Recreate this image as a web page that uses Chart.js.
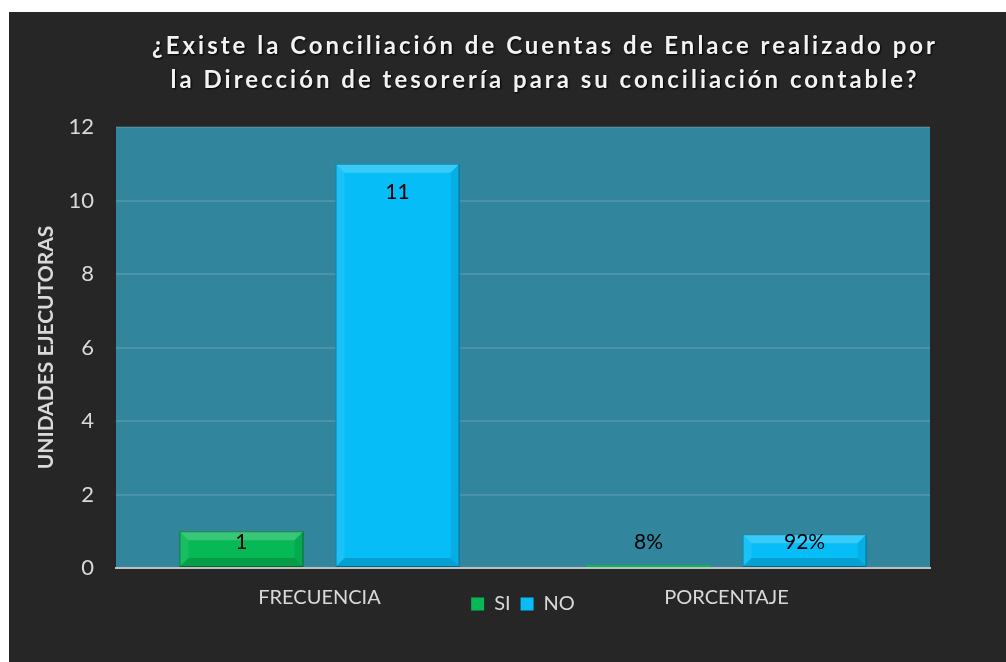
<!DOCTYPE html>
<html>
<head>
<meta charset="utf-8">
<script src="https://cdn.jsdelivr.net/npm/chart.js@4.4.0/dist/chart.umd.min.js"></script>
<style>
  body { margin: 0; background: #fff; width: 1006px; height: 662px; overflow: hidden; position: relative; }
  #frame { position: absolute; left: 9px; top: 12px; width: 997px; height: 650px; background: #262626; }
  #title {
    position: absolute; left: 80px; width: 930px; top: 28px;
    text-align: center; color: #f2f2f2; font: bold 24px Lato;
    letter-spacing: 3px; line-height: 34px; text-shadow: 1px 1px 2px #000;
  }
  #chart { position: absolute; left: 0; top: 0; }
</style>
</head>
<body>
<div id="frame"><canvas id="chart" width="997" height="650"></canvas></div>
<div id="title">¿Existe la Conciliación de Cuentas de Enlace realizado por<br>la Dirección de tesorería para su conciliación contable?</div>
<script>
const categories = ['FRECUENCIA', 'PORCENTAJE']
const siValues = [1, 0.08]
const noValues = [11, 0.92]
const siLabels = ['1', '8%']
const noLabels = ['11', '92%']
const yTicks = [0, 2, 4, 6, 8, 10, 12]

const plotBackground = {
  id: 'plotBackground',
  beforeDraw (chart) {
    const { ctx, chartArea: a } = chart
    ctx.save()
    ctx.fillStyle = '#31859c'
    ctx.fillRect(a.left, a.top, a.right - a.left, a.bottom - a.top)
    ctx.restore()
  }
}

// excel style bevel on each bar
const bevel = {
  id: 'bevel',
  afterDatasetsDraw (chart) {
    const ctx = chart.ctx
    const poly = (pts, color) => {
      ctx.beginPath()
      pts.forEach(([px, py], i) => (i ? ctx.lineTo(px, py) : ctx.moveTo(px, py)))
      ctx.closePath()
      ctx.fillStyle = color
      ctx.fill()
    }
    chart.data.datasets.forEach((ds, i) => {
      chart.getDatasetMeta(i).data.forEach(bar => {
        const { x, y, base, width } = bar.getProps(['x', 'y', 'base', 'width'], true)
        const l = x - width / 2
        const r = x + width / 2
        const h = base - y
        if (h < 6) return
        const d = Math.min(9, h / 3)
        ctx.save()
        poly([[l, y], [r, y], [r - d, y + d], [l + d, y + d]], 'rgba(255,255,255,0.20)')
        poly([[l, y], [l + d, y + d], [l + d, base - d], [l, base]], 'rgba(255,255,255,0.08)')
        poly([[r, y], [r, base], [r - d, base - d], [r - d, y + d]], 'rgba(0,0,0,0.08)')
        poly([[l, base], [l + d, base - d], [r - d, base - d], [r, base]], 'rgba(0,0,0,0.15)')
        ctx.strokeStyle = 'rgba(0,0,0,0.35)'
        ctx.lineWidth = 1
        ctx.strokeRect(l + 0.5, y + 0.5, width - 1, h - 1)
        ctx.restore()
      })
    })
  }
}

const valueLabels = {
  id: 'valueLabels',
  afterDatasetsDraw (chart) {
    const ctx = chart.ctx
    const texts = [siLabels, noLabels]
    ctx.save()
    ctx.font = '21px Lato'
    ctx.fillStyle = '#000'
    ctx.textAlign = 'center'
    ctx.textBaseline = 'middle'
    chart.data.datasets.forEach((ds, i) => {
      chart.getDatasetMeta(i).data.forEach((bar, j) => {
        const ly = Math.min(bar.y + 28, bar.base - 25)
        ctx.fillText(texts[i][j], bar.x, ly)
      })
    })
    ctx.restore()
  }
}

// legend sits on the same row as the category labels
const legendRow = {
  id: 'legendRow',
  afterLayout (chart) {
    const lg = chart.legend
    const a = chart.chartArea
    const h = lg.bottom - lg.top
    lg.top = a.bottom + 16
    lg.bottom = lg.top + h
    lg.left = a.left
    lg.right = a.right
  }
}

new Chart(document.getElementById('chart'), {
  type: 'bar',
  data: {
    labels: categories,
    datasets: [
      { label: 'SI', data: siValues, backgroundColor: '#07b955' },
      { label: 'NO', data: noValues, backgroundColor: '#07bdf7' }
    ]
  },
  options: {
    responsive: false,
    animation: false,
    categoryPercentage: 0.767,
    barPercentage: 0.795,
    layout: { padding: { left: 25, right: 76, top: 115, bottom: 14 } },
    plugins: {
      tooltip: { enabled: false },
      legend: {
        position: 'bottom',
        labels: {
          color: '#d9d9d9',
          font: { family: 'Lato', size: 20 },
          boxWidth: 13,
          boxHeight: 13,
          padding: 10
        }
      }
    },
    scales: {
      x: {
        grid: { display: false, drawTicks: false },
        border: { color: '#bfbfbf', width: 2 },
        ticks: { color: '#d9d9d9', font: { family: 'Lato', size: 20 }, padding: 18 },
        afterFit (scale) { scale.height = 40 }
      },
      y: {
        min: 0,
        max: 12,
        afterBuildTicks (scale) { scale.ticks = yTicks.map(v => ({ value: v })) },
        grid: { color: 'rgba(255,255,255,0.12)', lineWidth: 2, drawTicks: false },
        border: { display: false },
        ticks: { color: '#d9d9d9', font: { family: 'Lato', size: 22 }, padding: 22 },
        title: {
          display: true,
          text: 'UNIDADES EJECUTORAS',
          color: '#d9d9d9',
          font: { family: 'Lato', size: 21, weight: 'bold' },
          padding: 0
        },
        afterFit (scale) { scale.width = 82 }
      }
    }
  },
  plugins: [plotBackground, bevel, valueLabels, legendRow]
})
</script>
</body>
</html>
